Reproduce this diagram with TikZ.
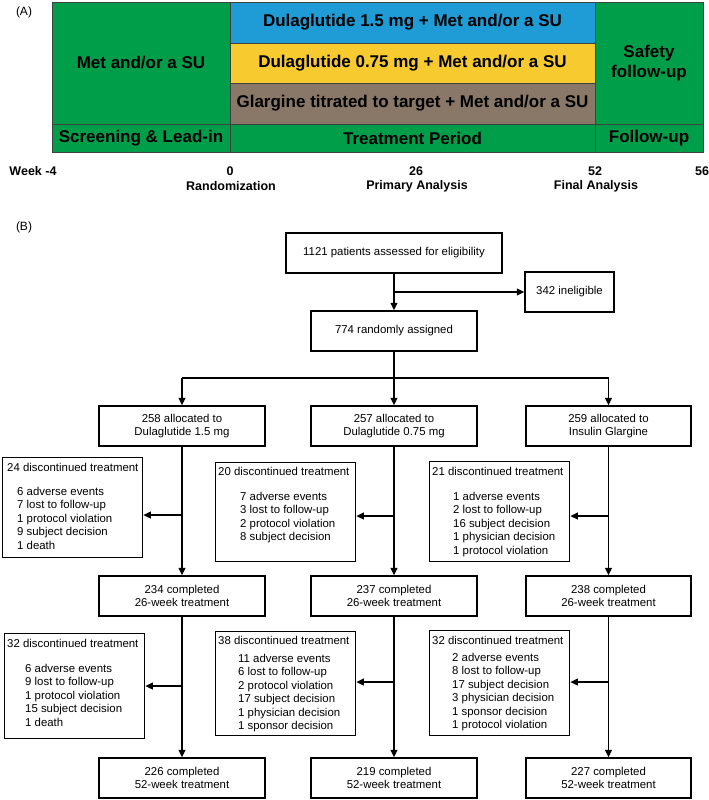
\documentclass[tikz,border=0pt]{standalone}
\usepackage{fontspec}
\setmainfont{Liberation Sans}
\usetikzlibrary{arrows.meta}
\definecolor{tgreen}{RGB}{0,158,73}
\definecolor{tblue}{RGB}{31,155,213}
\definecolor{tyellow}{RGB}{247,202,47}
\definecolor{tbrown}{RGB}{137,119,103}
\tikzset{
  pa/.style={draw=black!75, line width=0.8pt, inner sep=0pt, outer sep=0pt, anchor=north west,
    font=\fontsize{17}{20}\selectfont\bfseries, align=center},
  wk/.style={inner sep=0pt, font=\fontsize{12.5}{14}\selectfont\bfseries},
  lab/.style={inner sep=0pt, font=\fontsize{12}{14}\selectfont},
  bb/.style={draw, line width=1.4pt, inner sep=0pt, minimum height=40pt, align=center,
    font=\fontsize{11.4}{13.5}\selectfont},
  db/.style={draw, line width=1.4pt, inner sep=0pt, anchor=north west, minimum width=140pt},
  arr/.style={line width=1.3pt, -{Triangle[length=7.5pt,width=7pt]}},
  ln/.style={line width=1.3pt},
  hd/.style={inner sep=0pt, anchor=base west, font=\fontsize{11.4}{13.5}\selectfont},
  it/.style={inner sep=0pt, anchor=north west, align=left, font=\fontsize{11.4}{13.5}\selectfont}
}
\begin{document}
\begin{tikzpicture}[x=1pt,y=-1pt]
\useasboundingbox (0,0) rectangle (709,800);
% ---------- Part A ----------
\node[lab] (labA) at (24,12) {(A)};
\node[pa, fill=tgreen, minimum width=178pt, minimum height=122pt] (met) at (52,2) {Met and/or a SU};
\node[pa, fill=tblue, minimum width=365pt, minimum height=41pt] (dul15) at (230,2) {Dulaglutide 1.5 mg + Met and/or a SU};
\node[pa, fill=tyellow, minimum width=365pt, minimum height=40pt] (dul075) at (230,43) {Dulaglutide 0.75 mg + Met and/or a SU};
\node[pa, fill=tbrown, minimum width=365pt, minimum height=41pt] (glar) at (230,83) {Glargine titrated to target + Met and/or a SU};
\node[pa, fill=tgreen, minimum width=108pt, minimum height=122pt] (safe) at (595,2) {Safety\\follow-up};
\node[pa, fill=tgreen, minimum width=178pt, minimum height=28pt] (scr) at (52,124) {Screening \& Lead-in};
\node[pa, fill=tgreen, minimum width=365pt, minimum height=28pt] (trt) at (230,124) {Treatment Period};
\node[pa, fill=tgreen, minimum width=108pt, minimum height=28pt] (fu) at (595,124) {Follow-up};
\node[wk] (wm4) at (33,171) {Week -4};
\node[wk] (w0) at (230,171) {0};
\node[wk] (w26) at (416,171) {26};
\node[wk] (w52) at (595,171) {52};
\node[wk] (w56) at (702,171) {56};
\node[wk] (rnd) at (231,186) {Randomization};
\node[wk] (pri) at (417,186) {Primary Analysis};
\node[wk] (fin) at (596,186) {Final Analysis};
% ---------- Part B ----------
\node[lab] (labB) at (24,227) {(B)};
\node[bb, minimum width=216pt] (n1121) at (394,253) {1121 patients assessed for eligibility};
\node[bb, minimum width=89pt] (n342) at (569.5,292) {342 ineligible};
\node[bb, minimum width=166pt] (n774) at (394,331) {774 randomly assigned};
\node[bb, minimum width=166pt] (a1) at (182,426) {258 allocated to\\Dulaglutide 1.5 mg};
\node[bb, minimum width=166pt] (a2) at (394,426) {257 allocated to\\Dulaglutide 0.75 mg};
\node[bb, minimum width=165pt] (a3) at (608.5,426) {259 allocated to\\Insulin Glargine};
\node[bb, minimum width=166pt] (c1) at (182,596) {234 completed\\26-week treatment};
\node[bb, minimum width=166pt] (c2) at (394,596) {237 completed\\26-week treatment};
\node[bb, minimum width=165pt] (c3) at (608.5,596) {238 completed\\26-week treatment};
\node[bb, minimum width=166pt] (e1) at (182,778) {226 completed\\52-week treatment};
\node[bb, minimum width=166pt] (e2) at (394,778) {219 completed\\52-week treatment};
\node[bb, minimum width=165pt] (e3) at (608.5,778) {227 completed\\52-week treatment};
% discontinued boxes
\node[db, minimum height=100pt] (d1a) at (2,457) {};
\node[db, minimum height=99pt] (d2a) at (215,462) {};
\node[db, minimum height=100pt] (d3a) at (429,461) {};
\node[db, minimum height=105pt] (d1b) at (4,633) {};
\node[db, minimum height=104pt] (d2b) at (215,631) {};
\node[db, minimum height=105pt] (d3b) at (429,630) {};
\node[hd] (h1a) at (7,471) {24 discontinued treatment};
\node[it] (i1a) at (17,486.8) {6 adverse events\\7 lost to follow-up\\1 protocol violation\\9 subject decision\\1 death};
\node[hd] (h2a) at (218,475) {20 discontinued treatment};
\node[it] (i2a) at (240,491.8) {7 adverse events\\3 lost to follow-up\\2 protocol violation\\8 subject decision};
\node[hd] (h3a) at (432,475) {21 discontinued treatment};
\node[it] (i3a) at (453,491.8) {1 adverse events\\2 lost to follow-up\\16 subject decision\\1 physician decision\\1 protocol violation};
\node[hd] (h1b) at (7,647) {32 discontinued treatment};
\node[it] (i1b) at (25,663.8) {6 adverse events\\9 lost to follow-up\\1 protocol violation\\15 subject decision\\1 death};
\node[hd] (h2b) at (218,644) {38 discontinued treatment};
\node[it] (i2b) at (238,653.8) {11 adverse events\\6 lost to follow-up\\2 protocol violation\\17 subject decision\\1 physician decision\\1 sponsor decision};
\node[hd] (h3b) at (432,644) {32 discontinued treatment};
\node[it] (i3b) at (452,652.8) {2 adverse events\\8 lost to follow-up\\17 subject decision\\3 physician decision\\1 sponsor decision\\1 protocol violation};
% connectors
\draw[arr] (n1121.south) -- (n774.north);
\coordinate (br) at (n1121.south |- n342.west);
\draw[arr] (br) -- (n342.west);
\coordinate (sp) at (394,378);
\draw[ln] (a1.north |- sp) -- (a3.north |- sp);
\draw[arr] (n774.south) -- (a2.north);
\draw[arr] (a1.north |- sp) -- (a1.north);
\draw[arr] (a3.north |- sp) -- (a3.north);
\draw[arr] (a1.south) -- (c1.north);
\draw[arr] (a2.south) -- (c2.north);
\draw[arr] (a3.south) -- (c3.north);
\draw[arr] (c1.south) -- (e1.north);
\draw[arr] (c2.south) -- (e2.north);
\draw[arr] (c3.south) -- (e3.north);
\coordinate (j1a) at (182,515);
\coordinate (j2a) at (394,516);
\coordinate (j3a) at (608.5,516);
\coordinate (j1b) at (182,686);
\coordinate (j2b) at (394,682);
\coordinate (j3b) at (608.5,682);
\draw[arr] (j1a) -- (j1a -| d1a.east);
\draw[arr] (j2a) -- (j2a -| d2a.east);
\draw[arr] (j3a) -- (j3a -| d3a.east);
\draw[arr] (j1b) -- (j1b -| d1b.east);
\draw[arr] (j2b) -- (j2b -| d2b.east);
\draw[arr] (j3b) -- (j3b -| d3b.east);
\end{tikzpicture}
\end{document}
